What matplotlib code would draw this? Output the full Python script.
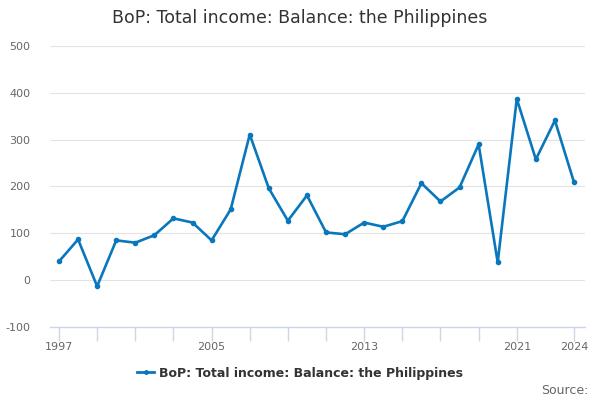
import matplotlib
matplotlib.use("Agg")
import matplotlib.pyplot as plt
from matplotlib.lines import Line2D

years = list(range(1997, 2025))
values = [40, 87, -13, 85, 80, 96, 132, 123, 85, 151, 311, 196, 127, 181, 102, 98,
          123, 114, 126, 207, 168, 198, 290, 38, 387, 258, 341, 209]
yticks = [-100, 0, 100, 200, 300, 400, 500]
xlabels = [1997, 2005, 2013, 2021, 2024]
xtickmarks = list(range(1997, 2022, 2)) + [2024]

color = "#0a77bd"
fig = plt.figure(figsize=(6, 4), dpi=100)
ax = fig.add_axes([50/600, 1-327/400, (585-50)/600, (327-46)/400])
ax.plot(years, values, color=color, lw=1.9, marker="o", ms=3, zorder=3)
ax.set_ylim(-100, 500)
ax.set_xlim(1997 - (59-50)/19.07, 2024 + (585-574)/19.07)
ax.set_yticks(yticks)
ax.set_yticklabels([str(v) for v in yticks], color="#666666", fontsize=8)
ax.grid(axis="y", color="#e3e3e3", lw=0.8)
ax.set_axisbelow(True)
ax.set_xticks(xtickmarks)
ax.set_xticklabels([str(y) if y in xlabels else "" for y in xtickmarks], color="#666666", fontsize=8)
ax.tick_params(axis="x", length=10, color="#ccd6eb", width=1, pad=1)
ax.tick_params(axis="y", length=0, pad=14)
for s in ["top", "right", "left"]:
    ax.spines[s].set_visible(False)
ax.spines["bottom"].set_color("#ccd6eb")
ax.spines["bottom"].set_linewidth(1)

fig.text(0.5, 1-18/400, "BoP: Total income: Balance: the Philippines", ha="center", va="center",
         fontsize=12.5, color="#333333")
h = Line2D([], [], color=color, lw=2, marker="o", ms=2.5)
fig.legend([h], ["BoP: Total income: Balance: the Philippines"], loc="center",
           bbox_to_anchor=(0.5, 1-373/400), frameon=False, handlelength=1.4,
           prop={"size": 9, "weight": "bold"}, labelcolor="#333333", handletextpad=0.4)
fig.text(589/600, 1-390/400, "Source:", ha="right", va="center", fontsize=9, color="#666666")
fig.savefig("out.png", dpi=100)
